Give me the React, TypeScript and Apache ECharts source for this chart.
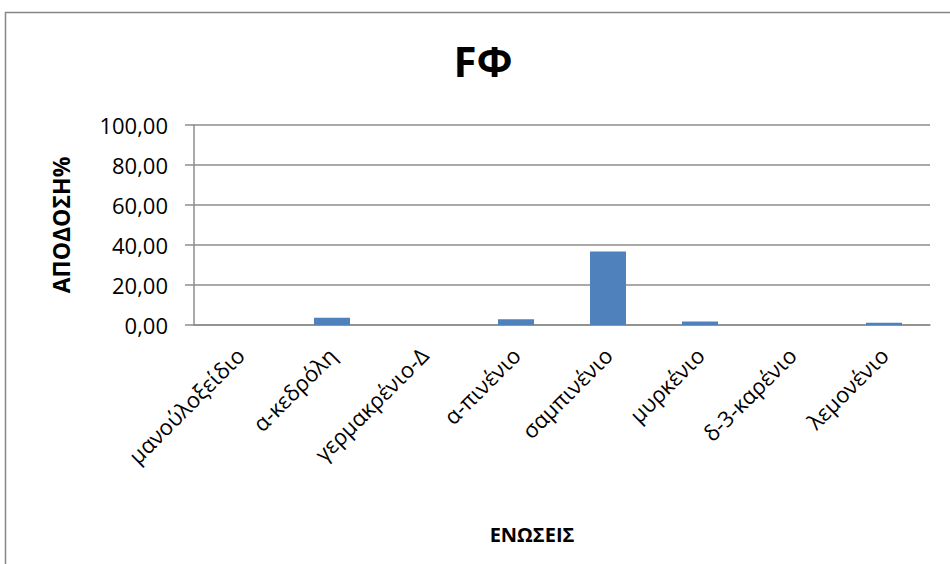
import React, { useEffect, useRef } from "react";
import * as echarts from "echarts";

const categories = [
  "μανούλοξείδιο",
  "α-κεδρόλη",
  "γερμακρένιο-Δ",
  "α-πινένιο",
  "σαμπινένιο",
  "μυρκένιο",
  "δ-3-καρένιο",
  "λεμονένιο",
];
const values = [0, 3.6, 0, 2.9, 36.8, 1.7, 0, 1.1];
const yMin = 0;
const yMax = 100;
const yStep = 20;

const FONT = "'Open Sans', 'Noto Sans', sans-serif";

export default function App() {
  const ref = useRef<HTMLDivElement>(null);

  useEffect(() => {
    if (!ref.current) return;
    const chart = echarts.init(ref.current, null, { renderer: "svg" });
    chart.setOption({
      animation: false,
      backgroundColor: "#ffffff",
      title: {
        text: "FΦ",
        left: 478,
        top: 34,
        textAlign: "center",
        textStyle: { fontFamily: FONT, fontSize: 42, fontWeight: "bold", color: "#000" },
      },
      grid: { left: 194, right: 20, top: 125, bottom: 239, containLabel: false },
      xAxis: {
        type: "category",
        data: categories,
        axisLine: { lineStyle: { color: "#8c8c8c", width: 1.5 } },
        axisTick: { show: false },
        axisLabel: {
          rotate: 45,
          interval: 0,
          margin: 26,
          fontFamily: FONT,
          fontSize: 22,
          color: "#000",
        },
      },
      yAxis: {
        type: "value",
        min: yMin,
        max: yMax,
        interval: yStep,
        name: "ΑΠΟΔΟΣΗ%",
        nameLocation: "middle",
        nameGap: 122,
        nameRotate: 90,
        nameTextStyle: { fontFamily: FONT, fontSize: 23, fontWeight: "bold", color: "#000" },
        axisLine: { show: true, lineStyle: { color: "#8c8c8c", width: 1.5 } },
        axisTick: { show: true, length: 9, lineStyle: { color: "#8c8c8c", width: 1.5 } },
        splitLine: { lineStyle: { color: "#8c8c8c", width: 1.5 } },
        axisLabel: {
          margin: 26,
          fontFamily: FONT,
          fontSize: 22,
          color: "#000",
          formatter: (v: number) => v.toFixed(2).replace(".", ","),
        },
      },
      series: [
        {
          type: "bar",
          data: values,
          barWidth: 36,
          itemStyle: { color: "#4f81bd" },
        },
      ],
      graphic: [
        {
          type: "rect",
          shape: { x: 5.5, y: 12.5, width: 960, height: 600 },
          style: { fill: "none", stroke: "#868686", lineWidth: 1.5 },
          silent: true,
        },
        {
          type: "text",
          x: 532,
          y: 534,
          style: {
            text: "ΕΝΩΣΕΙΣ",
            fontFamily: FONT,
            fontSize: 20,
            fontWeight: "bold",
            fill: "#000",
            align: "center",
            verticalAlign: "middle",
          },
        },
      ],
    });
    return () => chart.dispose();
  }, []);

  return (
    <div
      ref={ref}
      style={{ width: 950, height: 564, position: "fixed", left: 0, top: 0 }}
    />
  );
}
